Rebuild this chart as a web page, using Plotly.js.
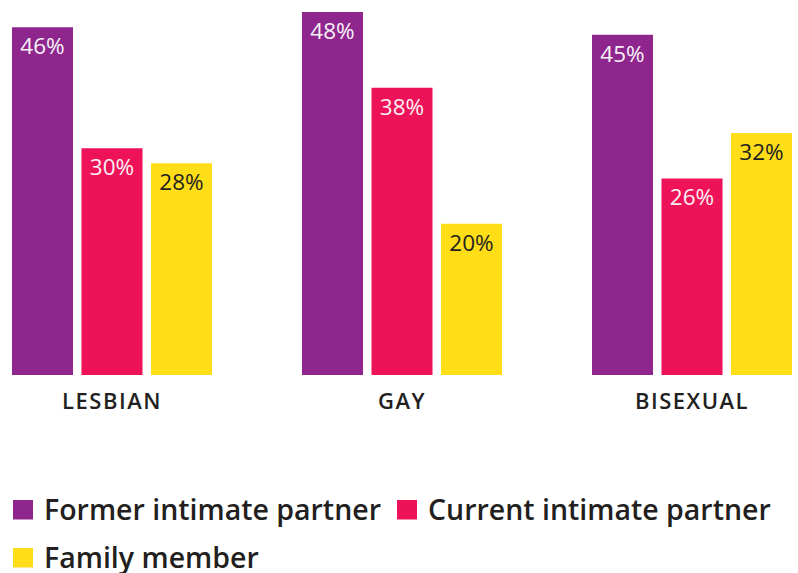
<!DOCTYPE html>
<html>
<head>
<meta charset="utf-8">
<script src="https://cdn.plot.ly/plotly-3.0.1.min.js"></script>
<style>
  html, body { margin: 0; padding: 0; background: #fff; }
  #chart { width: 798px; height: 573px; }
</style>
</head>
<body>
<div id="chart"></div>
<script>
const categories = ['LESBIAN', 'GAY', 'BISEXUAL'];
const seriesNames = ['Former intimate partner', 'Current intimate partner', 'Family member'];
const formerPartner = [46, 48, 45];
const currentPartner = [30, 38, 26];
const familyMember = [28, 20, 32];

const colors = ['#8E268E', '#EE1259', '#FFDD17'];
const labelColors = ['#F7F2F7', '#FBF0F3', '#231F20'];
const seriesValues = [formerPartner, currentPartner, familyMember];

const W = 798, H = 573;
const M = {l: 12, r: 6, t: 12, b: 198};
const PW = W - M.l - M.r, PH = H - M.t - M.b;
const px = x => (x - M.l) / PW;
const py = y => (H - M.b - y) / PH;

const traces = seriesValues.map((vals, i) => ({
  type: 'bar',
  name: seriesNames[i],
  x: categories,
  y: vals,
  marker: {color: colors[i], line: {width: 0}},
  texttemplate: '%{y}%',
  textposition: 'inside',
  insidetextanchor: 'end',
  textangle: 0,
  constraintext: 'none',
  insidetextfont: {family: 'Open Sans', size: 22.5, color: labelColors[i]},
  hoverinfo: 'skip'
}));

const legendPos = [
  {sx: 13, sy: 500, tx: 42},
  {sx: 397, sy: 500, tx: 426},
  {sx: 13, sy: 548, tx: 42}
];

const shapes = legendPos.map((p, i) => ({
  type: 'rect', xref: 'paper', yref: 'paper',
  x0: px(p.sx), x1: px(p.sx + 20), y0: py(p.sy), y1: py(p.sy + 19.5),
  fillcolor: colors[i], line: {width: 0}
}));

const annotations = legendPos.map((p, i) => ({
  xref: 'paper', yref: 'paper',
  x: px(p.tx), y: py(p.sy + 9),
  xanchor: 'left', yanchor: 'middle',
  text: seriesNames[i], showarrow: false,
  font: {family: 'Open Sans', size: 28.5, weight: 600, color: '#231F20'}
}));

const layout = {
  width: W, height: H,
  margin: M,
  paper_bgcolor: '#fff', plot_bgcolor: '#fff',
  showlegend: false,
  barmode: 'group',
  bargap: 0.281,
  bargroupgap: 0.122,
  xaxis: {
    type: 'category',
    range: [-0.3448, 2.3448],
    showgrid: false, zeroline: false, showline: false,
    ticks: '', ticklabelstandoff: 11,
    tickfont: {family: 'Open Sans', size: 22, weight: 600, color: '#231F20'}
  },
  yaxis: {
    range: [0, 48], showgrid: false, zeroline: false,
    showticklabels: false, showline: false
  },
  shapes: shapes,
  annotations: annotations,
  font: {family: 'Open Sans'}
};

Plotly.newPlot('chart', traces, layout, {displayModeBar: false, staticPlot: true}).then(() => {
  document.querySelectorAll('.xtick text').forEach(t => { t.style.letterSpacing = '1.5px'; });
});
</script>
</body>
</html>
